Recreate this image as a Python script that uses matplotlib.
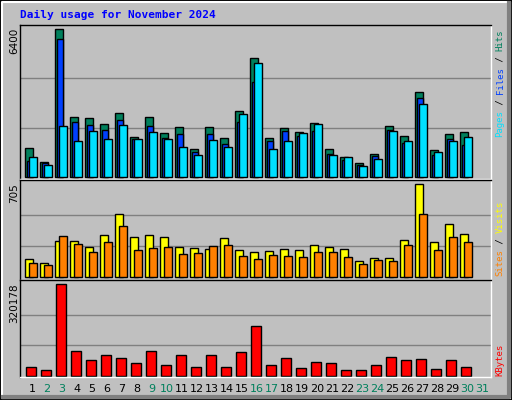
import matplotlib
matplotlib.use("Agg")
import matplotlib.pyplot as plt
from matplotlib.patches import Rectangle
from matplotlib.lines import Line2D

days = list(range(1, 31))
day_labels = [str(d) for d in range(1, 32)]
weekend = [2, 3, 9, 10, 16, 17, 23, 24, 30, 31]
hits = [1231, 623, 6400, 2577, 2534, 2273, 2751, 1709, 2577, 1882, 2143, 1187, 2143, 1665, 2838,
        5140, 1665, 2100, 1926, 2317, 1187, 839, 579, 970, 2186, 1752, 3663, 1144, 1839, 1926]
files = [666, 579, 5966, 2360, 2230, 2013, 2447, 1622, 2186, 1665, 1839, 1057, 1839, 1404, 2360,
         4098, 1535, 1969, 1752, 1969, 970, 709, 492, 883, 2013, 1448, 3403, 927, 1622, 1361]
pages = [840, 492, 2186, 1535, 1969, 1622, 2230, 1622, 1926, 1622, 1274, 927, 1578, 1274, 2708,
         4923, 1187, 1535, 1882, 2273, 927, 840, 449, 753, 1969, 1535, 3142, 1057, 1535, 1709]
visits = [132, 102, 270, 270, 224, 316, 476, 300, 316, 300, 224, 216, 209, 293, 201,
          186, 193, 209, 201, 239, 224, 209, 117, 140, 140, 277, 705, 262, 400, 323]
sites = [102, 87, 308, 247, 186, 262, 384, 201, 216, 224, 171, 178, 232, 239, 155,
         132, 163, 155, 148, 186, 186, 148, 94, 125, 117, 239, 476, 201, 300, 262]
kbytes = [29107, 18628, 320178, 84993, 53556, 71020, 60542, 43078, 84993, 36093, 71020, 29107,
          71020, 29107, 81500, 172314, 36093, 60542, 25614, 46571, 43078, 18628, 18628, 36093,
          64035, 53556, 57049, 22121, 53556, 29107]

W, H = 512, 400
BG = "#c0c0c0"
fig = plt.figure(figsize=(W/100, H/100), dpi=100, facecolor=BG)

def fr(x0, y0, x1, y1):
    return [x0/W, 1-y1/H, (x1-x0)/W, (y1-y0)/H]

# outer bevel
fig.patches.append(Rectangle((0, 0), 1, 1, transform=fig.transFigure, fill=False, ec="black", lw=2))
fig.add_artist(Line2D([2/W, 2/W, (W-3)/W], [3/H, 1-2/H, 1-2/H], color="white", lw=1.5))
fig.add_artist(Line2D([3/W, (W-3)/W, (W-3)/W], [3/H, 3/H, 1-3/H], color="#808080", lw=3))

X0, X1 = 20, 491
span = (X1 - X0) / 15.0
xl = (0.65, 0.65 + span)

def setup(ax, ylim, ticks):
    ax.set_facecolor(BG)
    ax.set_xlim(*xl)
    ax.set_ylim(*ylim)
    ax.set_xticks([]); ax.set_yticks([])
    for t in ticks:
        ax.axhline(t, color="#808080", lw=1, zorder=0)
    ax.spines["top"].set_color("black"); ax.spines["left"].set_color("black")
    ax.spines["right"].set_color("white"); ax.spines["bottom"].set_color("white")
    for s in ax.spines.values():
        s.set_linewidth(1)

kw = dict(align="edge", edgecolor="black", linewidth=1)

ax1 = fig.add_axes(fr(X0, 25, X1, 179))
setup(ax1, (-100, 6587), [6400/3, 6400*2/3])
ax1.bar([d for d in days], hits, 0.49, color="#00805c", **kw)
ax1.bar([d + 0.11 for d in days], files, 0.42, color="#0040ff", **kw)
ax1.bar([d + 0.27 for d in days], pages, 0.49, color="#00e0ff", **kw)

ax2 = fig.add_axes(fr(X0, 180, X1, 280))
setup(ax2, (-25, 738), [705/3, 705*2/3])
ax2.bar(days, visits, 0.53, color="#ffff00", **kw)
ax2.bar([d + 0.27 for d in days], sites, 0.49, color="#ff8000", **kw)

ax3 = fig.add_axes(fr(X0, 280, X1, 377))
setup(ax3, (-4540, 334140), [320178/3, 320178*2/3])
ax3.bar([d + 0.06 for d in days], kbytes, 0.67, color="#ff0000", **kw)

for i, lab in enumerate(day_labels):
    d = i + 1
    ax3.text(d + 0.45, -0.12, lab, transform=ax3.get_xaxis_transform(), ha="center", va="center",
             fontsize=8, color="#00805c" if d in weekend else "black")

fig.text(20/W, 1-15/H, "Daily usage for November 2024", fontsize=8, family="DejaVu Sans Mono",
         weight="bold", color="#0000ff", va="center")

ylabels = [("6400", 25), ("705", 180), ("320178", 280)]
for t, y in ylabels:
    fig.text(14/W, 1-(y+3)/H, t, rotation=90, ha="center", va="top", fontsize=7.5)

def side(parts, ybottom):
    y = ybottom
    for txt, col in parts:
        fig.text(500/W, 1-y/H, txt, rotation=90, ha="center", va="bottom", fontsize=6.5,
                 family="DejaVu Sans Mono", color=col)
        y -= len(txt) * 5.35

side([("Pages", "#00e0ff"), (" / ", "#000000"), ("Files", "#0040ff"), (" / ", "#000000"), ("Hits", "#00805c")], 137)
side([("Sites", "#ff8000"), (" / ", "#000000"), ("Visits", "#ffff00")], 276)
side([("KBytes", "#ff0000")], 376)

fig.savefig("out.png", dpi=100, facecolor=BG)
